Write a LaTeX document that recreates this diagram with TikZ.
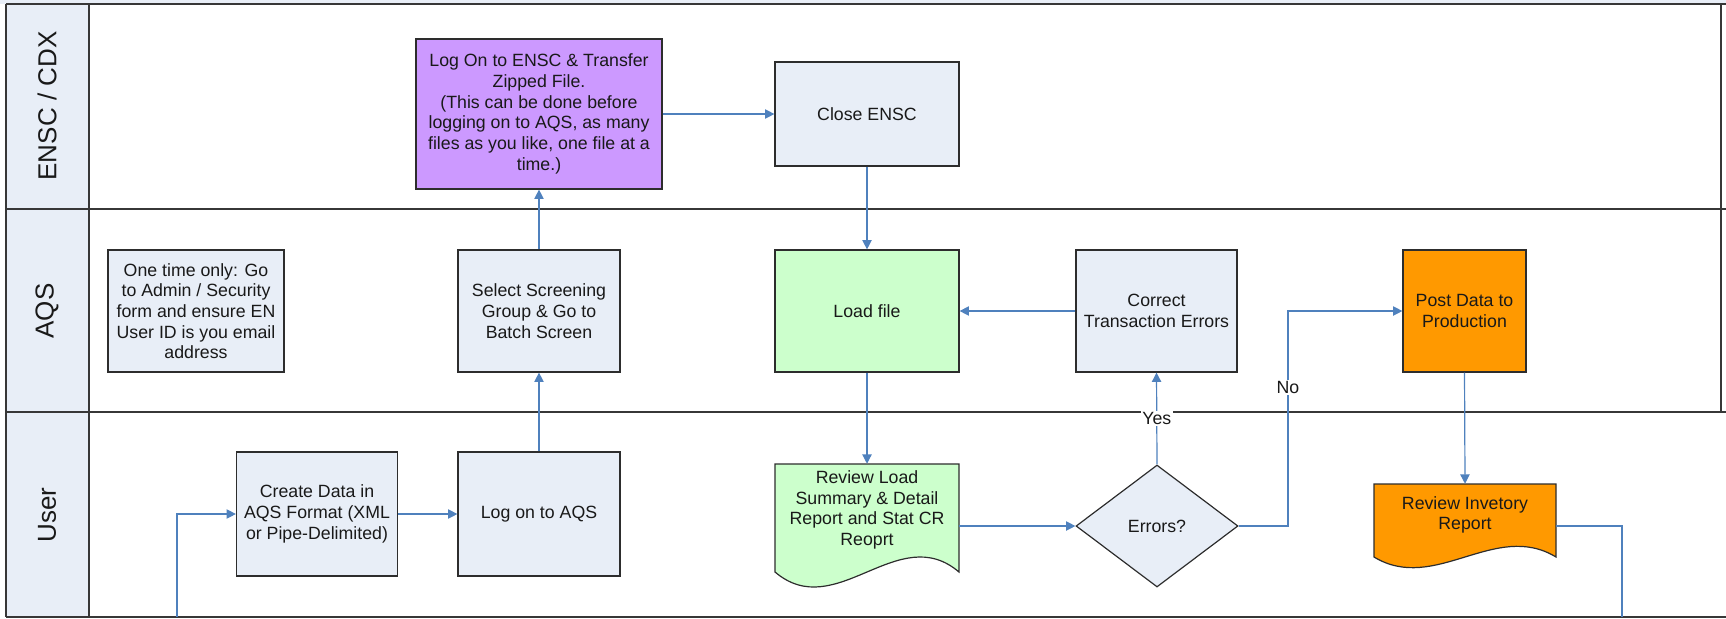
\documentclass[tikz,border=0pt]{standalone}
\usepackage{fontspec}
\setmainfont{Liberation Sans}
\usetikzlibrary{arrows.meta,shapes.geometric,calc}
\definecolor{boxfill}{RGB}{232,238,247}
\definecolor{hdrfill}{RGB}{232,238,247}
\definecolor{purplefill}{RGB}{204,153,255}
\definecolor{greenfill}{RGB}{204,255,204}
\definecolor{orangefill}{RGB}{255,153,0}
\definecolor{arrowblue}{RGB}{79,129,189}
\definecolor{edgecol}{RGB}{45,45,45}
\definecolor{lanecol}{RGB}{55,55,55}
\definecolor{txtcol}{RGB}{25,25,25}
\begin{document}
\begin{tikzpicture}[x=0.75pt,y=-0.75pt,
  font=\fontsize{13.3}{15.5}\selectfont,
  every node/.style={text=txtcol},
  proc/.style={draw=edgecol,line width=0.9pt,fill=boxfill,align=center,inner sep=2pt},
  docshape/.style={draw=edgecol,line width=0.9pt},
  doctext/.style={align=center,inner sep=0pt},
  decision/.style={shape=diamond,draw=edgecol,line width=0.9pt,fill=boxfill,inner sep=0pt,aspect=1.33,minimum width=121.5pt,minimum height=91.5pt},
  arr/.style={draw=arrowblue,line width=0.9pt,-{Triangle[length=7pt,width=7pt]}},
  plainline/.style={draw=arrowblue,line width=0.9pt},
  lbl/.style={fill=white,inner sep=1pt},
  laneline/.style={draw=lanecol,line width=1.2pt},
  lanetitle/.style={rotate=90,font=\fontsize{19.5}{22}\selectfont}
]
\useasboundingbox (0,0) rectangle (1726,618);
% top strip and header column
\fill[hdrfill] (0,0) rectangle (1726,4);
\fill[hdrfill] (6,4) rectangle (89,617);
% lane lines
\draw[laneline] (6,4) -- (1726,4);
\draw[laneline] (6,209) -- (1726,209);
\draw[laneline] (6,412) -- (1726,412);
\draw[laneline] (6,617) -- (1726,617);
\draw[laneline] (6,4) -- (6,617);
\draw[laneline] (89,4) -- (89,617);
\draw[laneline] (1721,4) -- (1721,412);
% lane titles
\node[lanetitle] (t1) at (47,106) {ENSC / CDX};
\node[lanetitle] (t2) at (47,311) {AQS};
\node[lanetitle] (t3) at (47,515) {User};

% ENSC lane
\node[proc,fill=purplefill,minimum width=184.5pt,minimum height=112.5pt] (purple) at (539,114)
  {Log On to ENSC \& Transfer\\Zipped File.\\(This can be done before\\logging on to AQS, as many\\files as you like, one file at a\\time.)};
\node[proc,minimum width=138pt,minimum height=78pt] (close) at (867,114) {Close ENSC};

% AQS lane
\node[proc,minimum width=132pt,minimum height=91.5pt] (onetime) at (196,311)
  {One time only: Go\\to Admin / Security\\form and ensure EN\\User ID is you email\\address};
\node[proc,minimum width=121.5pt,minimum height=91.5pt] (select) at (539,311)
  {Select Screening\\Group \& Go to\\Batch Screen};
\node[proc,fill=greenfill,minimum width=138pt,minimum height=91.5pt] (load) at (867,311) {Load file};
\node[proc,minimum width=120.75pt,minimum height=91.5pt] (correct) at (1156.5,311)
  {Correct\\Transaction Errors};
\node[proc,fill=orangefill,minimum width=92.25pt,minimum height=91.5pt] (post) at (1464.5,311)
  {Post Data to\\Production};

% User lane
\node[proc,minimum width=120.75pt,minimum height=93pt] (create) at (317,514)
  {Create Data in\\AQS Format (XML\\or Pipe-Delimited)};
\node[proc,minimum width=121.5pt,minimum height=93pt] (logon) at (539,514) {Log on to AQS};
\draw[docshape,fill=greenfill] (775,464) -- (959,464) -- (959,572)
  .. controls (898,520) and (836,624) .. (775,572) -- cycle;
\node[doctext,minimum width=138pt,minimum height=69pt] (rload) at (867,510)
  {Review Load\\Summary \& Detail\\Report and Stat CR\\Reoprt};
\node[decision] (errors) at (1157,526) {Errors?};
\draw[docshape,fill=orangefill] (1374,484) -- (1556,484) -- (1556,557)
  .. controls (1495,520) and (1435,594) .. (1374,557) -- cycle;
\node[doctext,minimum width=136.5pt,minimum height=46.5pt] (inv) at (1465,515)
  {Review Invetory\\Report};

% free ends
\coordinate (cin) at (177,617);
\coordinate (nx) at (1288,526);
\coordinate (invout) at (1622,617);

% connectors
\draw[arr] (cin) |- (create.west);
\draw[arr] (create.east) -- (logon.west);
\draw[arr] (logon.north) -- (select.south);
\draw[arr] (select.north) -- (purple.south);
\draw[arr] (purple.east) -- (close.west);
\draw[arr] (close.south) -- (load.north);
\draw[arr] (load.south) -- (rload.north);
\draw[arr] (rload.east |- errors.west) -- (errors.west);
\draw[arr] (errors.north) -- node[lbl,pos=0.5] (yes) {Yes} (correct.south);
\draw[arr] (correct.west) -- (load.east);
\draw[arr] (errors.east) -- (nx) |- node[lbl,pos=0.323] (no) {No} (post.west);
\draw[arr] (post.south) -- (inv.north);
\draw[plainline] (inv.east |- errors.east) -| (invout);
\end{tikzpicture}
\end{document}
